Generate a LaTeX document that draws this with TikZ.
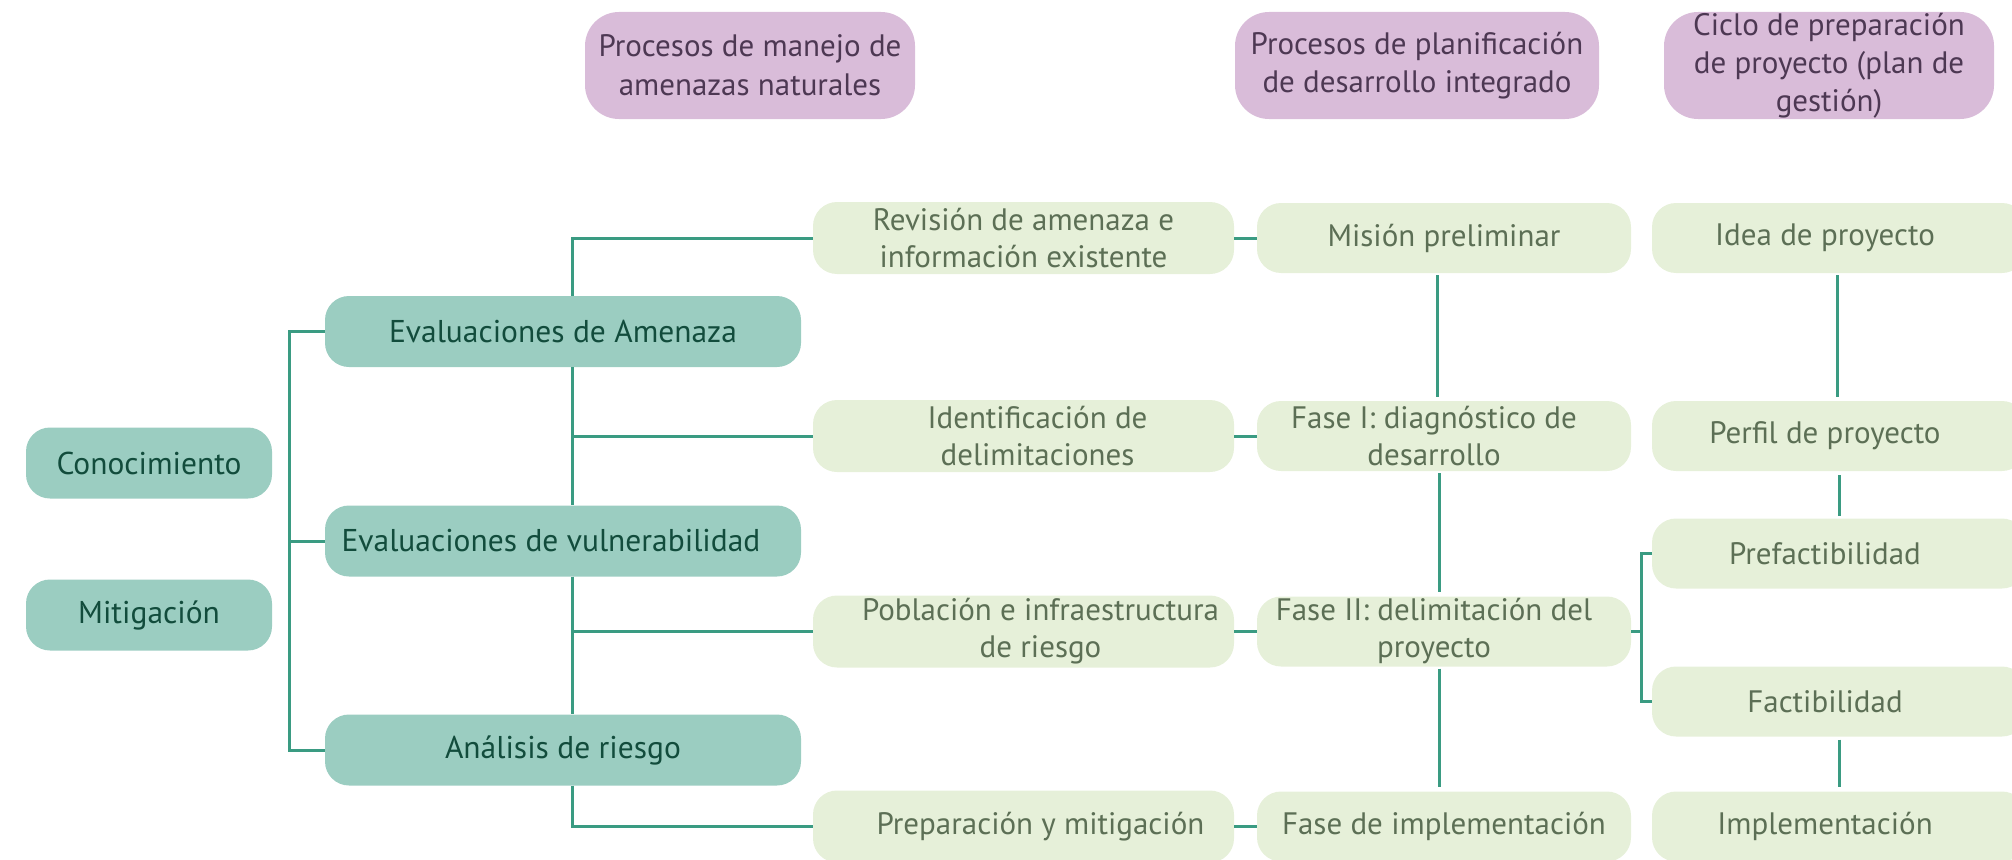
\documentclass[tikz,border=0pt]{standalone}
\usepackage{fontspec}
\setmainfont{PT Sans}
\newfontfamily\condfont{PT Sans}
\newfontfamily\normfont{PT Sans}
\definecolor{tealfill}{HTML}{9BCDC1}
\definecolor{tealtext}{HTML}{124C3C}
\definecolor{lightfill}{HTML}{E6F0D9}
\definecolor{lighttext}{HTML}{5C6F55}
\definecolor{purpfill}{HTML}{D9BCD9}
\definecolor{purptext}{HTML}{4D3853}
\definecolor{linecol}{HTML}{3A9B82}
\tikzset{
  tealbox/.style={fill=tealfill, rounded corners=24pt, minimum height=71pt, inner sep=0pt,
    text=tealtext, align=center, font=\normfont\fontsize{31.5}{38}\selectfont},
  lightbox/.style={fill=lightfill, rounded corners=24pt, inner sep=0pt,
    text=lighttext, align=center, font=\condfont\fontsize{31}{37}\selectfont},
  purpbox/.style={fill=purpfill, rounded corners=34pt, minimum height=107pt, inner sep=0pt,
    text=purptext, align=center, font=\condfont\fontsize{31}{38}\selectfont},
  conn/.style={draw=linecol, line width=3pt},
}
\begin{document}
\begin{tikzpicture}[x=1pt,y=-1pt]
\useasboundingbox (0,0) rectangle (2012,859);
\clip (0,0) rectangle (2012,859);
% header boxes
\node[purpbox, minimum width=330pt, font=\normfont\fontsize{31}{39}\selectfont] (p1) at (750,65.5) {Procesos de manejo de\\amenazas naturales};
\node[purpbox, minimum width=364pt] (p2) at (1417,65.5) {Procesos de planificación\\de desarrollo integrado};
\node[purpbox, minimum width=330pt] (p3) at (1829,65.5) {Ciclo de preparación\\de proyecto (plan de\\gestión)};
% left column
\node[tealbox, minimum width=246pt] (know) at (149,463) {Conocimiento};
\node[tealbox, minimum width=246pt] (mitig) at (149,615) {Mitigación};
% second column
\node[tealbox, minimum width=476pt] (evA) at (563,331.5) {Evaluaciones de Amenaza};
\node[tealbox, minimum width=476pt] (evV) at (563,541) {Evaluaciones de vulnerabilidad\hspace*{24pt}};
\node[tealbox, minimum width=476pt] (anR) at (563,750) {Análisis de riesgo};
% third column
\node[lightbox, minimum width=421pt, minimum height=72pt] (rev) at (1023.5,238) {Revisión de amenaza e\\información existente};
\node[lightbox, minimum width=421pt, minimum height=72pt] (ide) at (1023.5,436) {\hspace*{28pt}Identificación de\\\hspace*{28pt}delimitaciones};
\node[lightbox, minimum width=421pt, minimum height=72pt] (pob) at (1023.5,631.5) {\hspace*{34pt}Población e infraestructura\\\hspace*{34pt}de riesgo};
\node[lightbox, minimum width=421pt, minimum height=72pt] (prep) at (1023.5,826.5) {\hspace*{34pt}Preparación y mitigación};
% fourth column
\node[lightbox, minimum width=374pt, minimum height=70pt] (mis) at (1444,238) {Misión preliminar};
\node[lightbox, minimum width=374pt, minimum height=70pt] (f1) at (1444,436) {Fase I: diagnóstico de\hspace*{20pt}\\desarrollo\hspace*{20pt}};
\node[lightbox, minimum width=374pt, minimum height=70pt] (f2) at (1444,631.5) {Fase II: delimitación del\hspace*{20pt}\\proyecto\hspace*{20pt}};
\node[lightbox, minimum width=374pt, minimum height=70pt] (fimp) at (1444,826.5) {Fase de implementación};
% fifth column
\node[lightbox, minimum width=374pt, minimum height=70pt] (idea) at (1839,238) {Idea de proyecto\hspace*{28pt}};
\node[lightbox, minimum width=374pt, minimum height=70pt] (perf) at (1839,436) {Perfil de proyecto\hspace*{28pt}};
\node[lightbox, minimum width=374pt, minimum height=70pt] (pre) at (1839,553.5) {Prefactibilidad\hspace*{28pt}};
\node[lightbox, minimum width=374pt, minimum height=70pt] (fac) at (1839,701.5) {Factibilidad\hspace*{28pt}};
\node[lightbox, minimum width=374pt, minimum height=70pt] (impl) at (1839,826.5) {Implementación\hspace*{28pt}};
% left tree
\draw[conn] (evA.west) -- ++(-35,0) |- (anR.west);
\draw[conn] (evV.west) -- ++(-35,0);
% middle tree
\draw[conn] ([xshift=9pt]evA.north) |- (rev.west);
\draw[conn] ([xshift=9pt]evA.south) -- ([xshift=9pt]evV.north);
\draw[conn] ([xshift=9pt]evA.south) |- (ide.west);
\draw[conn] ([xshift=9pt]evV.south) -- ([xshift=9pt]anR.north);
\draw[conn] ([xshift=9pt]evV.south) |- (pob.west);
\draw[conn] ([xshift=9pt]anR.south) |- (prep.west);
% row links
\draw[conn] (rev.east) -- (mis.west);
\draw[conn] (ide.east) -- (f1.west);
\draw[conn] (pob.east) -- (f2.west);
\draw[conn] (prep.east) -- (fimp.west);
% column 4 chain
\draw[conn, shorten <=2pt, shorten >=4pt] ([xshift=-7pt]mis.south) -- ([xshift=-7pt]f1.north);
\draw[conn, shorten <=2pt, shorten >=4pt] ([xshift=-5pt]f1.south) -- ([xshift=-5pt]f2.north);
\draw[conn, shorten <=2pt, shorten >=4pt] ([xshift=-5pt]f2.south) -- ([xshift=-5pt]fimp.north);
% column 5 chain
\draw[conn, shorten <=2pt, shorten >=4pt] ([xshift=-2pt]idea.south) -- ([xshift=-2pt]perf.north);
\draw[conn, shorten <=4pt, shorten >=2pt] (perf.south) -- (pre.north);
\draw[conn, shorten <=3pt, shorten >=4pt] (fac.south) -- (impl.north);
% bracket
\draw[conn] (f2.east) -- ++(10,0);
\draw[conn] (pre.west) -- ++(-10,0) |- (fac.west);
\end{tikzpicture}
\end{document}
